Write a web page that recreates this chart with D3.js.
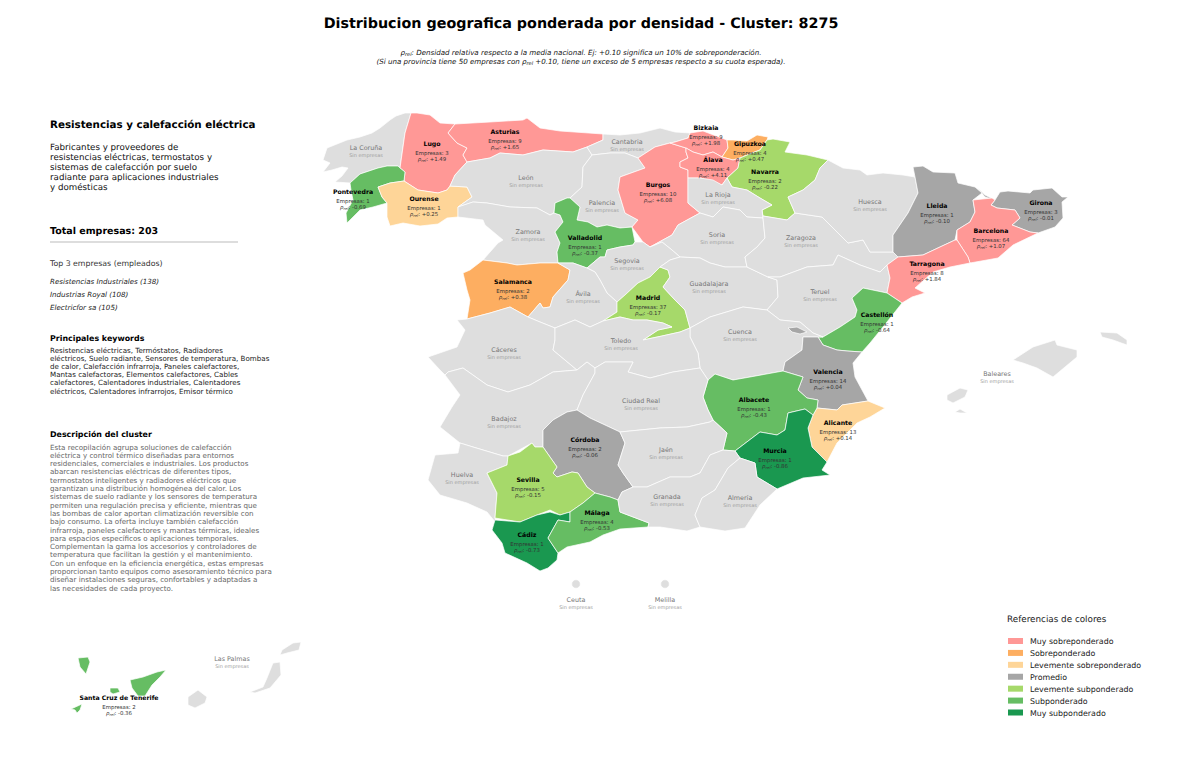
<!DOCTYPE html>
<html><head><meta charset="utf-8">
<script src="https://cdn.jsdelivr.net/npm/d3@7"></script>
<style>html,body{margin:0;padding:0;background:#fff}svg{display:block}text{font-family:"DejaVu Sans",sans-serif;text-rendering:geometricPrecision}</style>
</head><body><svg id="c" width="1200" height="761"></svg>
<script>
// ---------- data ----------
const activeNames=["Lugo","Asturias","Pontevedra","Ourense","Salamanca","Valladolid","Burgos","Bizkaia","Gipuzkoa","Álava","Navarra","Madrid","Lleida","Girona","Barcelona","Tarragona","Castellón","Valencia","Albacete","Alicante","Murcia","Córdoba","Sevilla","Málaga","Cádiz","Santa Cruz de Tenerife"];
const activeCompanies=[3,9,1,1,2,1,10,9,4,4,2,37,1,3,64,8,1,14,1,13,1,2,5,4,1,2];
const activeRho=[1.49,1.65,-0.69,0.25,0.38,-0.37,6.08,1.98,0.47,4.11,-0.22,-0.17,-0.10,-0.01,1.07,1.84,-0.64,0.04,-0.43,0.14,-0.86,-0.06,-0.15,-0.53,-0.73,-0.36];
const categories=["Muy sobreponderado","Sobreponderado","Levemente sobreponderado","Promedio","Levemente subponderado","Subponderado","Muy subponderado"];
const categoryColors=["#ff9896","#fdae61","#fed598","#a6a6a6","#a6d96a","#66bd63","#1a9850"];
const rhoBreaks=[-0.7,-0.3,-0.125,0.1,0.3,1.0];
const mainTitle="Distribucion geografica ponderada por densidad - Cluster: 8275";
const clusterTitle="Resistencias y calefacción eléctrica";
const clusterSummary=["Fabricantes y proveedores de","resistencias eléctricas, termostatos y","sistemas de calefacción por suelo","radiante para aplicaciones industriales","y domésticas"];
const topCompanies=["Resistencias Industriales (138)","Industrias Royal (108)","Electricfor sa (105)"];
const keywordLines=["Resistencias eléctricas, Termóstatos, Radiadores","eléctricos, Suelo radiante, Sensores de temperatura, Bombas","de calor, Calefacción infrarroja, Paneles calefactores,","Mantas calefactoras, Elementos calefactores, Cables","calefactores, Calentadores industriales, Calentadores","eléctricos, Calentadores infrarrojos, Emisor térmico"];
const descriptionLines=["Esta recopilación agrupa soluciones de calefacción","eléctrica y control térmico diseñadas para entornos","residenciales, comerciales e industriales. Los productos","abarcan resistencias eléctricas de diferentes tipos,","termostatos inteligentes y radiadores eléctricos que","garantizan una distribución homogénea del calor. Los","sistemas de suelo radiante y los sensores de temperatura","permiten una regulación precisa y eficiente, mientras que","las bombas de calor aportan climatización reversible con","bajo consumo. La oferta incluye también calefacción","infrarroja, paneles calefactores y mantas térmicas, ideales","para espacios específicos o aplicaciones temporales.","Complementan la gama los accesorios y controladores de","temperatura que facilitan la gestión y el mantenimiento.","Con un enfoque en la eficiencia energética, estas empresas","proporcionan tanto equipos como asesoramiento técnico para","diseñar instalaciones seguras, confortables y adaptadas a","las necesidades de cada proyecto."];

// province outlines, in map units
const outlines={
"La Coruña":[[[411,113],[405,113],[396,116],[390,120],[380,128],[372,133],[360,137],[347,140],[327,148],[323,160],[330,163],[323,172],[332,170],[342,167],[348,168],[342,176],[335,182],[350,183],[360,174],[378,168],[387,166],[398,166],[400,168],[405,133]]],
"Lugo":[[[411,113],[417,113],[430,115],[440,123],[455,124],[448,133],[457,143],[467,148],[463,155],[467,162],[455,175],[450,186],[447,190],[438,193],[418,190],[404,181],[405,172],[400,168],[405,133]]],
"Pontevedra":[[[350,183],[360,174],[378,168],[387,166],[398,166],[400,168],[405,172],[404,181],[390,183],[378,187],[382,197],[387,203],[373,207],[360,210],[347,223],[346,213],[353,200],[351,190]]],
"Ourense":[[[378,187],[390,183],[404,181],[418,190],[438,193],[447,190],[450,186],[467,187],[472,197],[458,207],[458,217],[447,218],[438,224],[420,226],[403,223],[390,226],[387,217],[387,203],[382,197]]],
"Asturias":[[[455,124],[490,122],[523,120],[527,118],[540,128],[560,131],[603,134],[603,140],[587,147],[573,152],[543,150],[523,155],[500,153],[490,158],[467,162],[463,155],[467,148],[457,143],[448,133]]],
"León":[[[467,162],[490,158],[500,153],[523,155],[543,150],[573,152],[587,147],[592,155],[583,167],[582,187],[570,198],[567,198],[555,203],[554,213],[550,215],[537,208],[510,207],[487,203],[473,202],[458,207],[472,197],[467,187],[450,186],[455,175]]],
"Cantabria":[[[603,134],[620,135],[640,133],[660,128],[675,132],[690,133],[688,138],[675,142],[670,143],[655,147],[638,158],[625,153],[610,153],[592,155],[587,147],[603,140]]],
"Palencia":[[[592,155],[610,153],[625,153],[638,158],[645,168],[620,177],[618,190],[625,213],[638,220],[632,227],[620,228],[607,225],[597,227],[588,222],[577,220],[580,207],[570,198],[582,187],[583,167]]],
"Zamora":[[[458,207],[473,202],[487,203],[510,207],[537,208],[550,215],[554,213],[560,215],[563,222],[555,232],[560,243],[557,252],[558,263],[540,263],[517,265],[507,263],[483,260],[498,243],[503,240],[485,225],[483,220],[458,217]]],
"Valladolid":[[[555,203],[567,198],[570,198],[580,207],[577,220],[588,222],[597,227],[607,225],[620,228],[632,227],[635,242],[633,245],[620,247],[607,250],[605,257],[600,257],[587,268],[573,263],[558,263],[557,252],[560,243],[555,232],[563,222],[560,215],[554,213]]],
"Salamanca":[[[463,273],[470,270],[483,260],[507,263],[517,265],[540,263],[558,263],[570,270],[568,280],[553,297],[550,307],[543,308],[540,303],[528,317],[510,307],[490,313],[467,319],[470,300],[467,290]]],
"Burgos":[[[638,158],[655,147],[670,143],[686,148],[686,152],[688,158],[680,162],[680,167],[688,170],[688,178],[688,203],[700,213],[678,225],[672,235],[650,247],[643,242],[632,227],[638,220],[625,213],[618,190],[620,177],[645,168]]],
"Bizkaia":[[[690,133],[703,131],[727,140],[728,148],[722,157],[713,152],[703,155],[693,152],[686,148],[670,143],[675,142],[688,138]]],
"Gipuzkoa":[[[768,137],[757,135],[747,141],[733,140],[727,140],[728,148],[722,157],[733,160],[740,158],[752,153],[760,150],[767,140]]],
"Álava":[[[686,148],[693,152],[703,155],[713,152],[722,157],[733,160],[740,158],[738,168],[727,178],[722,185],[713,182],[700,178],[688,178],[688,170],[680,167],[680,162],[688,158],[686,152]]],
"Navarra":[[[767,140],[773,139],[790,142],[785,152],[807,155],[828,160],[820,168],[815,180],[803,190],[788,197],[795,213],[787,220],[763,216],[762,210],[772,205],[760,198],[747,190],[732,187],[727,178],[738,168],[740,158],[752,153],[760,150]]],
"La Rioja":[[[688,178],[700,178],[713,180],[722,185],[727,178],[732,187],[747,190],[760,198],[772,205],[762,210],[763,218],[747,217],[740,210],[723,207],[713,217],[700,213],[688,203]]],
"Soria":[[[650,247],[672,235],[678,225],[700,213],[713,217],[723,207],[740,210],[747,217],[763,218],[765,238],[757,247],[745,257],[747,267],[725,267],[710,263],[700,258],[680,257],[672,250],[662,242]]],
"Segovia":[[[587,268],[600,257],[605,257],[607,250],[620,247],[633,245],[635,242],[643,242],[650,247],[662,242],[672,250],[680,257],[670,260],[660,267],[650,277],[638,283],[625,295],[617,302],[607,293],[600,280],[595,272]]],
"Ávila":[[[558,263],[573,263],[587,268],[595,272],[600,280],[607,293],[617,302],[617,312],[603,321],[590,327],[575,320],[555,328],[540,322],[528,317],[540,303],[543,308],[550,307],[553,297],[568,280],[570,270]]],
"Madrid":[[[660,267],[668,270],[670,277],[663,287],[675,300],[685,310],[690,328],[680,332],[662,336],[643,340],[658,330],[672,327],[663,323],[647,320],[633,320],[620,317],[603,321],[617,312],[617,302],[625,295],[638,283],[650,277]]],
"Guadalajara":[[[660,267],[670,260],[680,257],[700,258],[710,263],[725,267],[747,267],[768,277],[777,280],[778,297],[767,310],[743,307],[710,317],[690,328],[685,310],[675,300],[663,287],[670,277],[668,270]]],
"Zaragoza":[[[763,218],[763,216],[787,220],[795,213],[822,217],[838,233],[848,243],[863,240],[870,252],[893,252],[898,257],[887,265],[880,272],[860,265],[838,255],[833,265],[807,267],[780,277],[768,277],[747,267],[745,257],[757,247],[765,238]]],
"Huesca":[[[828,160],[843,168],[860,170],[867,175],[883,173],[903,175],[915,177],[918,193],[908,213],[893,235],[893,252],[870,252],[863,240],[848,243],[838,233],[822,217],[795,213],[788,197],[803,190],[815,180],[820,168]]],
"Teruel":[[[777,280],[768,277],[780,277],[807,267],[833,265],[838,255],[860,265],[880,272],[887,265],[890,278],[887,293],[863,288],[852,298],[857,310],[855,317],[840,327],[823,337],[813,333],[800,322],[780,320],[767,310],[778,297]]],
"Lleida":[[[915,177],[913,167],[923,166],[933,172],[955,173],[958,183],[975,187],[982,193],[973,200],[975,212],[970,222],[957,230],[955,240],[940,247],[923,255],[898,257],[893,252],[893,235],[908,213],[918,193]]],
"Girona":[[[977,187],[985,195],[995,200],[1000,192],[1008,191],[1030,193],[1033,190],[1052,188],[1062,197],[1068,197],[1062,202],[1063,218],[1055,227],[1038,233],[1030,232],[1012,225],[1020,218],[1015,210],[997,208],[991,205],[995,200],[985,197],[982,193]]],
"Barcelona":[[[973,200],[992,198],[995,200],[991,205],[997,208],[1015,210],[1020,218],[1012,225],[1030,232],[1038,233],[1013,245],[998,258],[970,263],[968,257],[957,240],[957,230],[970,222],[975,212]]],
"Tarragona":[[[898,257],[923,255],[940,247],[955,240],[957,240],[968,257],[970,263],[950,267],[933,272],[915,288],[925,293],[912,297],[902,303],[887,293],[890,278],[887,265]]],
"Castellón":[[[852,298],[863,288],[887,293],[902,303],[883,327],[870,343],[862,352],[847,351],[837,350],[823,345],[818,337],[823,337],[840,327],[855,317],[857,310]]],
"Cuenca":[[[690,328],[710,317],[743,307],[767,310],[780,320],[800,322],[813,333],[823,337],[818,337],[803,337],[802,350],[785,362],[783,371],[750,377],[733,380],[715,374],[708,380],[700,368],[698,353],[690,337]]],
"Valencia":[[[803,337],[818,337],[823,345],[837,350],[847,351],[862,352],[853,363],[855,377],[868,401],[842,405],[837,410],[817,408],[818,400],[807,398],[798,390],[803,377],[783,371],[785,362],[802,350]],[[788,328],[797,327],[807,332],[800,334],[792,332]]],
"Alicante":[[[817,408],[837,410],[842,405],[868,401],[885,408],[870,417],[857,423],[845,435],[837,443],[827,462],[812,447],[808,428],[813,415]]],
"Albacete":[[[708,380],[715,374],[733,380],[750,377],[783,371],[803,377],[798,390],[807,398],[818,400],[817,408],[813,415],[805,409],[788,413],[785,430],[777,435],[760,432],[735,451],[723,450],[727,433],[713,420],[708,410],[703,397]]],
"Murcia":[[[735,451],[760,432],[777,435],[785,430],[788,413],[805,409],[813,415],[808,428],[812,447],[827,462],[822,470],[830,475],[803,478],[777,489],[757,477],[755,463],[740,458]]],
"Cáceres":[[[457,320],[467,319],[490,313],[510,307],[528,317],[540,322],[555,328],[555,340],[553,350],[577,370],[553,372],[530,385],[508,392],[487,385],[463,368],[448,372],[445,375],[440,370],[428,357],[457,347],[465,330]]],
"Toledo":[[[555,328],[575,320],[590,327],[603,321],[620,317],[633,320],[647,320],[663,323],[672,327],[658,330],[643,340],[662,336],[680,332],[690,328],[690,337],[698,353],[700,368],[673,372],[650,378],[628,372],[633,362],[605,362],[595,368],[587,362],[577,370],[553,350],[555,340]]],
"Badajoz":[[[445,375],[448,372],[463,368],[487,385],[508,392],[530,385],[553,372],[577,370],[587,362],[595,368],[595,373],[583,395],[577,410],[567,412],[553,420],[543,430],[543,447],[535,447],[532,443],[508,456],[503,456],[473,447],[460,443],[440,427],[452,407],[460,395]]],
"Ciudad Real":[[[577,410],[583,395],[595,373],[595,368],[605,362],[633,362],[628,372],[650,378],[673,372],[700,368],[708,380],[703,397],[708,410],[713,420],[710,422],[687,427],[660,428],[620,432],[590,418]]],
"Córdoba":[[[567,412],[577,410],[590,418],[620,432],[625,443],[618,465],[623,473],[633,487],[622,492],[618,500],[610,497],[595,493],[587,487],[578,473],[572,472],[557,477],[553,473],[557,467],[543,447],[543,430],[553,420]]],
"Jaén":[[[620,432],[660,428],[687,427],[710,422],[713,420],[727,433],[723,450],[710,455],[700,473],[690,477],[670,477],[647,487],[633,487],[623,473],[618,465],[625,443]]],
"Huelva":[[[460,443],[473,447],[503,456],[508,456],[507,465],[487,473],[497,493],[495,518],[496,523],[487,512],[467,503],[440,495],[428,480],[435,455],[458,453]]],
"Sevilla":[[[532,443],[535,447],[543,447],[557,467],[553,473],[557,477],[572,472],[578,473],[587,487],[595,493],[583,503],[570,512],[560,515],[550,510],[537,515],[520,522],[495,518],[497,493],[487,473],[507,465],[508,456],[520,452]]],
"Cádiz":[[[495,520],[520,522],[537,515],[550,512],[560,515],[570,512],[570,522],[558,520],[548,538],[558,553],[557,560],[548,568],[540,571],[527,563],[505,553],[502,543],[492,530]]],
"Málaga":[[[570,512],[583,503],[595,493],[610,497],[618,500],[620,512],[649,523],[648,527],[620,529],[603,535],[590,542],[567,547],[558,553],[548,538],[558,520],[570,522]]],
"Granada":[[[618,500],[622,492],[633,487],[647,487],[670,477],[690,477],[700,473],[710,455],[723,450],[735,451],[740,458],[728,468],[715,490],[702,498],[695,515],[700,527],[687,531],[660,527],[648,527],[649,523],[620,512]]],
"Almería":[[[740,458],[755,463],[757,477],[777,489],[760,505],[745,528],[725,531],[700,527],[695,515],[702,498],[715,490],[728,468]]],
"Baleares":[[[1013,360],[1033,347],[1055,340],[1057,345],[1077,350],[1077,357],[1053,377],[1037,368],[1023,363]],[[1100,332],[1117,333],[1127,340],[1127,345],[1113,340],[1102,337]],[[947,400],[947,395],[960,388],[968,390],[965,397],[953,403]],[[955,412],[960,409],[967,413],[960,413]]],
"Santa Cruz de Tenerife":[[[78,658],[88,657],[90,662],[86,674],[80,667]],[[130,680],[143,677],[157,672],[166,670],[160,677],[152,685],[145,696],[138,696],[132,688]],[[110,688],[118,688],[120,692],[113,694],[110,692]],[[71,709],[82,704],[80,710],[77,713],[75,710]]],
"Las Palmas":[[[188,697],[198,690],[207,697],[205,703],[195,708],[188,705]],[[273,663],[280,662],[281,675],[270,688],[255,693],[250,692],[263,687],[267,678]],[[282,650],[293,643],[301,642],[299,650],[287,653],[280,655]]]
};
const enclaves={"Ceuta":[576,584],"Melilla":[665,584]};
const labelAnchors={"Lugo":[432,143],"Asturias":[505,131],"Pontevedra":[353,191],"Ourense":[424,198],"Salamanca":[513,281],"Valladolid":[585,237],"Burgos":[658,184],"Bizkaia":[706,127],"Gipuzkoa":[750,143],"Álava":[713,159],"Navarra":[765,171],"Madrid":[648,297],"Lleida":[937,205],"Girona":[1041,202],"Barcelona":[991,230],"Tarragona":[927,263],"Castellón":[877,314],"Valencia":[828,371],"Albacete":[754,399],"Alicante":[838,422],"Murcia":[775,450],"Córdoba":[585,439],"Sevilla":[528,479],"Málaga":[597,512],"Cádiz":[527,534],"Santa Cruz de Tenerife":[119,697],
"La Coruña":[366,147],"León":[526,177],"Cantabria":[627,141],"Palencia":[602,202],"La Rioja":[718,194],"Zamora":[528,231],"Soria":[717,234],"Huesca":[870,201],"Zaragoza":[801,237],"Segovia":[627,260],"Ávila":[583,293],"Guadalajara":[709,283],"Teruel":[820,291],"Cuenca":[740,331],"Cáceres":[504,349],"Toledo":[621,340],"Ciudad Real":[641,400],"Badajoz":[504,418],"Jaén":[666,449],"Huelva":[462,474],"Granada":[667,496],"Almería":[740,497],"Baleares":[997,373],"Ceuta":[576,599],"Melilla":[665,599],"Las Palmas":[232,658]};

// ---------- scales ----------
const svg=d3.select("#c");
const colorOf=d3.scaleThreshold().domain(rhoBreaks).range(categoryColors.slice().reverse());
const path=d3.geoPath(d3.geoIdentity()).pointRadius(4.3);
const stats=new Map(activeNames.map((n,i)=>[n,{n:activeCompanies[i],r:activeRho[i]}]));
const EMPTY="#dedede";
const fmt=v=>(v>=0?"+":"-")+Math.abs(v).toFixed(2);

// ---------- map ----------
const features=Object.entries(outlines).map(([name,rings])=>({type:"Feature",properties:{name},geometry:{type:"MultiPolygon",coordinates:rings.map(r=>[r.concat([r[0]])])}}));
Object.entries(enclaves).forEach(([name,c])=>features.push({type:"Feature",properties:{name},geometry:{type:"Point",coordinates:c}}));
svg.append("g").selectAll("path").data(features).join("path")
  .attr("d",path)
  .attr("fill",d=>stats.has(d.properties.name)?colorOf(stats.get(d.properties.name).r):EMPTY)
  .attr("stroke","#fff").attr("stroke-width",0.7).attr("stroke-linejoin","round");

// ---------- map labels ----------
const lab=svg.append("g").attr("text-anchor","middle");
Object.entries(labelAnchors).forEach(([name,[x,y]])=>{
  const s=stats.get(name);
  if(s){
    lab.append("text").attr("x",x).attr("y",y+2.5).attr("font-size",6.2).attr("font-weight","bold").attr("fill","#000").text(name);
    lab.append("text").attr("x",x).attr("y",y+11.5).attr("font-size",5.4).attr("fill","#333").text("Empresas: "+s.n);
    const t=lab.append("text").attr("x",x).attr("y",y+17.5).attr("font-size",5.4).attr("fill","#333");
    t.append("tspan").attr("font-style","italic").text("ρ");
    t.append("tspan").attr("font-style","italic").attr("font-size",3.8).attr("dy",1).text("rel");
    t.append("tspan").attr("dy",-1).text(": "+fmt(s.r));
  }else{
    lab.append("text").attr("x",x).attr("y",y+3).attr("font-size",6.4).attr("fill","#777").text(name);
    lab.append("text").attr("x",x).attr("y",y+9.5).attr("font-size",5).attr("fill","#a0a0a0").text("Sin empresas");
  }
});

// ---------- header ----------
svg.append("text").attr("x",581).attr("y",28).attr("text-anchor","middle").attr("font-size",14.3).attr("font-weight","bold").text(mainTitle);
const sub=svg.append("g").attr("text-anchor","middle").attr("font-size",7.1).attr("font-style","italic").attr("fill","#111");
const s1=sub.append("text").attr("x",581).attr("y",55);
s1.append("tspan").text("ρ");s1.append("tspan").attr("font-size",5).attr("dy",1).text("rel");s1.append("tspan").attr("dy",-1).text(": Densidad relativa respecto a la media nacional. Ej: +0.10 significa un 10% de sobreponderación.");
const s2=sub.append("text").attr("x",581).attr("y",64);
s2.append("tspan").text("(Si una provincia tiene 50 empresas con ρ");s2.append("tspan").attr("font-size",5).attr("dy",1).text("rel");s2.append("tspan").attr("dy",-1).text(" +0.10, tiene un exceso de 5 empresas respecto a su cuota esperada).");

// ---------- side panel ----------
const side=svg.append("g");
const put=(txt,y,size,o={})=>side.append("text").attr("x",50).attr("y",y).attr("font-size",size).attr("font-weight",o.b?"bold":null).attr("font-style",o.i?"italic":null).attr("fill",o.c||"#000").text(txt);
put(clusterTitle,128,10.3,{b:1});
clusterSummary.forEach((l,i)=>put(l,149.5+i*10,8.7,{c:"#111"}));
put("Total empresas: 203",233.5,9.5,{b:1});
side.append("line").attr("x1",50).attr("x2",238).attr("y1",242).attr("y2",242).attr("stroke","#aaa").attr("stroke-width",0.8);
put("Top 3 empresas (empleados)",265.5,7.8,{c:"#333"});
topCompanies.forEach((l,i)=>put(l,283.5+i*13.4,7.1,{i:1,c:"#222"}));
put("Principales keywords",340.5,7.9,{b:1});
keywordLines.forEach((l,i)=>put(l,352.5+i*8.2,7.13,{c:"#222"}));
put("Descripción del cluster",437,7.9,{b:1});
descriptionLines.forEach((l,i)=>put(l,449.5+i*8.3,7.13,{c:"#666"}));

// ---------- legend ----------
const yLeg=d3.scalePoint().domain(categories).range([641,712.5]);
svg.append("text").attr("x",1007).attr("y",622).attr("font-size",8.8).attr("fill","#222").text("Referencias de colores");
const leg=svg.append("g").selectAll("g").data(categories).join("g").attr("transform",d=>`translate(0,${yLeg(d)})`);
leg.append("rect").attr("x",1008).attr("y",-3).attr("width",15).attr("height",6).attr("fill",(d,i)=>categoryColors[i]);
leg.append("text").attr("x",1030).attr("y",3).attr("font-size",7.9).attr("fill","#222").text(d=>d);
</script></body></html>
